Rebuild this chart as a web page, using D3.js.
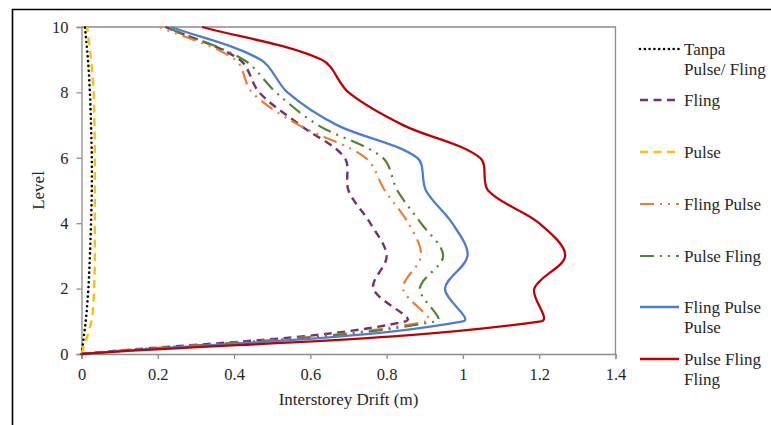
<!DOCTYPE html>
<html>
<head>
<meta charset="utf-8">
<script src="https://cdn.jsdelivr.net/npm/d3@7/dist/d3.min.js"></script>
<style>
  html, body { margin: 0; padding: 0; background: #fff; }
  svg text { font-family: "Liberation Serif", "Times New Roman", serif; fill: #262626; }
</style>
</head>
<body>
<svg id="chart" width="771" height="425"></svg>
<script>
// Storey levels (y) and drift per record (x, metres)
const levels = [0, 1, 2, 3, 4, 5, 6, 7, 8, 9, 10];

const tanpa          = [0, 0.011, 0.018, 0.022, 0.025, 0.027, 0.027, 0.025, 0.022, 0.017, 0.009];
const fling          = [0, 0.850, 0.765, 0.800, 0.757, 0.700, 0.690, 0.573, 0.466, 0.415, 0.220];
const pulse          = [0, 0.026, 0.033, 0.035, 0.035, 0.035, 0.035, 0.034, 0.032, 0.025, 0.015];
const flingPulse     = [0, 0.905, 0.843, 0.890, 0.857, 0.795, 0.745, 0.570, 0.447, 0.403, 0.205];
const pulseFling     = [0, 0.930, 0.887, 0.948, 0.890, 0.828, 0.790, 0.620, 0.510, 0.425, 0.220];
const flingPulsePulse= [0, 1.000, 0.953, 1.012, 0.972, 0.903, 0.880, 0.670, 0.540, 0.470, 0.235];
const pulseFlingFling= [0, 1.205, 1.187, 1.268, 1.200, 1.066, 1.045, 0.843, 0.700, 0.630, 0.316];

const seriesNames = ["Tanpa\nPulse/ Fling", "Fling", "Pulse", "Fling Pulse", "Pulse Fling",
                     "Fling Pulse\nPulse", "Pulse Fling\nFling"];
const seriesValues = [tanpa, fling, pulse, flingPulse, pulseFling, flingPulsePulse, pulseFlingFling];

const xTicks = [0, 0.2, 0.4, 0.6, 0.8, 1, 1.2, 1.4];
const yTicks = [0, 2, 4, 6, 8, 10];

const styles = [
  { color: "#000000", width: 2.6, dash: "0.01 4.8", cap: "round" },
  { color: "#7a2f6c", width: 2.4, dash: "8 5.5", cap: "butt" },
  { color: "#ffc000", width: 2.4, dash: "8 5.5", cap: "butt" },
  { color: "#ed7d31", width: 2.2, dash: "14 6 2 6 2 6", cap: "butt" },
  { color: "#548235", width: 2.2, dash: "14 6 2 6 2 6", cap: "butt" },
  { color: "#4a7ed0", width: 2.3, dash: null, cap: "butt" },
  { color: "#c00000", width: 2.3, dash: null, cap: "butt" }
];

// Smoothed curve: cubic Béziers whose handles follow the neighbour chord,
// split in proportion to the adjacent segment lengths.
function smoothCurve(context) {
  let pts = [];
  return {
    areaStart() {}, areaEnd() {},
    lineStart() { pts = []; },
    point(px, py) { pts.push([+px, +py]); },
    lineEnd() {
      const n = pts.length;
      if (!n) return;
      context.moveTo(pts[0][0], pts[0][1]);
      if (n === 1) return;
      const dist = (a, b) => Math.hypot(b[0] - a[0], b[1] - a[1]);
      const before = [], after = [];
      for (let i = 0; i < n; i++) {
        const p = pts[i];
        if (i === 0) {
          const q = pts[1];
          after[i] = [p[0] + (q[0] - p[0]) / 3, p[1] + (q[1] - p[1]) / 3];
        } else if (i === n - 1) {
          const q = pts[i - 1];
          before[i] = [p[0] + (q[0] - p[0]) / 3, p[1] + (q[1] - p[1]) / 3];
        } else {
          const a = pts[i - 1], b = pts[i + 1];
          const da = dist(a, p), db = dist(p, b), s = da + db || 1;
          const tx = b[0] - a[0], ty = b[1] - a[1];
          before[i] = [p[0] - tx * da / s / 3, p[1] - ty * da / s / 3];
          after[i]  = [p[0] + tx * db / s / 3, p[1] + ty * db / s / 3];
        }
      }
      for (let i = 0; i < n - 1; i++) {
        const c1 = after[i], c2 = before[i + 1], p = pts[i + 1];
        context.bezierCurveTo(c1[0], c1[1], c2[0], c2[1], p[0], p[1]);
      }
    }
  };
}

const svg = d3.select("#chart");

// outer frame (top and left edges)
svg.append("path")
  .attr("d", "M12.5,425 L12.5,9.5 L771,9.5")
  .attr("fill", "none").attr("stroke", "#000").attr("stroke-width", 1.6);

const plotLeft = 81.5, plotRight = 615.5, plotTop = 27, plotBottom = 354;

const x = d3.scaleLinear().domain([0, 1.4]).range([plotLeft, plotRight]);
const y = d3.scaleLinear().domain([0, 10]).range([plotBottom, plotTop]);

const axisColor = "#8c8c8c";

// plot area border (top and right)
svg.append("path")
  .attr("d", `M${plotLeft},${plotTop} L${plotRight},${plotTop} L${plotRight},${plotBottom}`)
  .attr("fill", "none").attr("stroke", axisColor).attr("stroke-width", 1.3);

// x axis
const gx = svg.append("g").attr("transform", `translate(0,${plotBottom})`)
  .call(d3.axisBottom(x).tickValues(xTicks).tickSize(5).tickPadding(9)
        .tickFormat(d => String(+d.toFixed(1))));
gx.select(".domain").attr("stroke", axisColor).attr("stroke-width", 1.3);
gx.selectAll(".tick line").attr("stroke", axisColor).attr("stroke-width", 1.3);
gx.selectAll(".tick text").attr("font-size", 16.5).attr("fill", "#262626")
  .attr("font-family", "Liberation Serif, serif");

// y axis
const gy = svg.append("g").attr("transform", `translate(${plotLeft},0)`)
  .call(d3.axisLeft(y).tickValues(yTicks).tickSize(5).tickPadding(8));
gy.select(".domain").attr("stroke", axisColor).attr("stroke-width", 1.3);
gy.selectAll(".tick line").attr("stroke", axisColor).attr("stroke-width", 1.3);
gy.selectAll(".tick text").attr("font-size", 16.5).attr("fill", "#262626")
  .attr("font-family", "Liberation Serif, serif");

// axis titles
svg.append("text")
  .attr("x", (plotLeft + plotRight) / 2).attr("y", 405)
  .attr("text-anchor", "middle").attr("font-size", 17)
  .text("Interstorey Drift (m)");

svg.append("text")
  .attr("transform", `translate(43.5,${(plotTop + plotBottom) / 2}) rotate(-90)`)
  .attr("text-anchor", "middle").attr("font-size", 17)
  .text("Level");

// drift profiles
const line = d3.line()
  .x(d => x(d[0])).y(d => y(d[1]))
  .curve(smoothCurve);

const drawOrder = [0, 2, 1, 3, 4, 5, 6];
drawOrder.forEach(i => {
  const st = styles[i];
  const pts = seriesValues[i].map((v, k) => [v, levels[k]]);
  svg.append("path")
    .datum(pts)
    .attr("d", line)
    .attr("fill", "none")
    .attr("stroke", st.color)
    .attr("stroke-width", st.width)
    .attr("stroke-dasharray", st.dash)
    .attr("stroke-linecap", st.cap)
    .attr("stroke-linejoin", "round");
});

// legend
const legendY = [49, 100, 152, 204, 256, 307, 359];
const legend = svg.append("g");
seriesNames.forEach((name, i) => {
  const st = styles[i];
  const ly = legendY[i];
  legend.append("line")
    .attr("x1", 640).attr("x2", 679).attr("y1", ly).attr("y2", ly)
    .attr("stroke", st.color).attr("stroke-width", st.width)
    .attr("stroke-dasharray", st.dash).attr("stroke-linecap", st.cap);
  const t = legend.append("text")
    .attr("x", 684).attr("y", ly + 6).attr("font-size", 17);
  name.split("\n").forEach((part, j) => {
    t.append("tspan").attr("x", 684).attr("dy", j === 0 ? 0 : 20).text(part);
  });
});
</script>
</body>
</html>
